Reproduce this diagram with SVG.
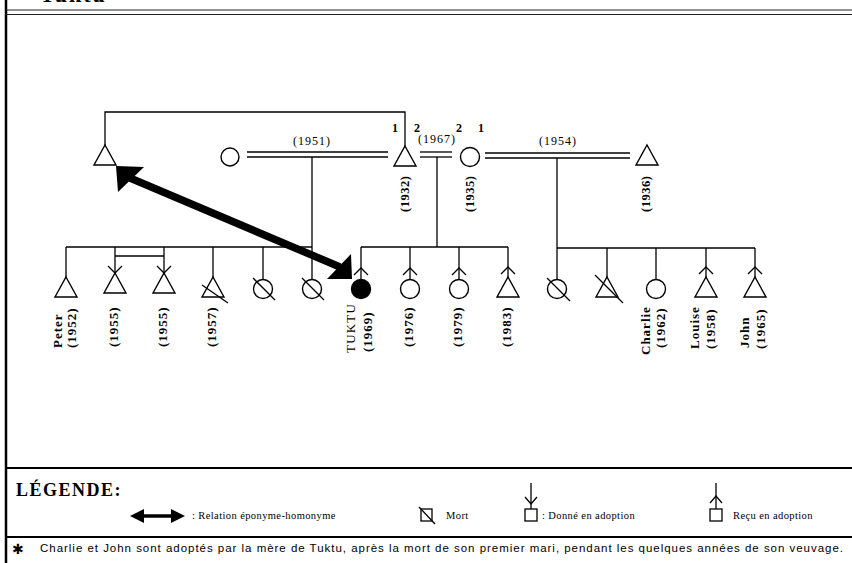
<svg xmlns="http://www.w3.org/2000/svg" width="852" height="563" viewBox="0 0 852 563">
<style>
.ln{stroke:#000;stroke-width:1.3;fill:none}
.sym{stroke:#000;stroke-width:1.4;fill:#fff}
.fill{stroke:#000;stroke-width:1.4;fill:#000}
.yr{font-family:"Liberation Serif",serif;font-size:12px;letter-spacing:1px;fill:#000}
.num{font-family:"Liberation Serif",serif;font-size:12px;font-weight:bold;fill:#000}
.ty{font-family:"Liberation Serif",serif;font-size:12.5px;font-weight:bold;letter-spacing:0.5px;fill:#000}
.rl{font-family:"Liberation Serif",serif;font-size:13px;font-weight:bold;letter-spacing:1px;fill:#000}
.rn{font-family:"Liberation Serif",serif;font-size:13px;letter-spacing:1.2px;fill:#000}
.lg{font-family:"Liberation Serif",serif;font-size:10.5px;letter-spacing:0.4px;fill:#000}
.fn{font-family:"Liberation Sans",sans-serif;font-size:11.5px;fill:#000}
</style>
<defs>
<path id="tri" d="M0,0 L11,20 L-11,20 Z"/>
</defs>
<rect width="852" height="563" fill="#fff"/>
<!-- frame -->
<g id="frame">
<text x="40" y="1.5" style="font-family:'Liberation Serif',serif;font-size:22px;font-weight:bold;letter-spacing:2px">Tuktu</text>
<line x1="6" y1="0" x2="6" y2="563" stroke="#000" stroke-width="2.5"/>
<line x1="6" y1="10" x2="852" y2="10" stroke="#222" stroke-width="1"/>
<line x1="6" y1="14.5" x2="852" y2="14.5" stroke="#222" stroke-width="1"/>
<line x1="6" y1="468" x2="852" y2="468" stroke="#000" stroke-width="2"/>
<line x1="6" y1="537" x2="852" y2="537" stroke="#000" stroke-width="2"/>
</g>
<!-- connectors -->
<g id="connectors" class="ln">
<path d="M105,145 V112 H405 V146"/>
<!-- marriage 1951 -->
<line x1="247" y1="152" x2="388" y2="152"/>
<line x1="247" y1="157" x2="388" y2="157"/>
<line x1="312" y1="157" x2="312" y2="279.5"/>
<line x1="66" y1="247" x2="312" y2="247"/>
<line x1="66" y1="247" x2="66" y2="277"/>
<line x1="115" y1="247" x2="115" y2="273"/>
<line x1="164" y1="247" x2="164" y2="273"/>
<line x1="213" y1="247" x2="213" y2="277"/>
<line x1="263" y1="247" x2="263" y2="279.5"/>
<line x1="115" y1="256" x2="164" y2="256"/>
<path d="M108,266 L115,273 L122,266"/>
<path d="M157,266 L164,273 L171,266"/>
<!-- marriage 1967 -->
<line x1="420" y1="152" x2="452" y2="152"/>
<line x1="420" y1="157" x2="452" y2="157"/>
<line x1="437" y1="157" x2="437" y2="247"/>
<line x1="361" y1="247" x2="508" y2="247"/>
<line x1="361" y1="247" x2="361" y2="279.5"/>
<line x1="410" y1="247" x2="410" y2="279.5"/>
<line x1="459" y1="247" x2="459" y2="279.5"/>
<line x1="508" y1="247" x2="508" y2="277"/>
<path d="M354,275 L361,268 L368,275"/>
<path d="M403,275 L410,268 L417,275"/>
<path d="M452,275 L459,268 L466,275"/>
<path d="M501,274 L508,267 L515,274"/>
<!-- marriage 1954 -->
<line x1="485" y1="153" x2="630" y2="153"/>
<line x1="485" y1="158" x2="630" y2="158"/>
<line x1="557" y1="158" x2="557" y2="280"/>
<line x1="557" y1="248" x2="755" y2="248"/>
<line x1="607" y1="248" x2="607" y2="277"/>
<line x1="656" y1="248" x2="656" y2="280"/>
<line x1="706" y1="248" x2="706" y2="277"/>
<line x1="755" y1="248" x2="755" y2="277"/>
<path d="M699,274 L706,267 L713,274"/>
<path d="M748,274 L755,267 L762,274"/>
</g>
<!-- marriage labels -->
<g id="marriage-labels">
<text class="yr" x="312" y="145" text-anchor="middle">(1951)</text>
<text class="yr" x="437" y="143" text-anchor="middle">(1967)</text>
<text class="yr" x="558" y="145" text-anchor="middle">(1954)</text>
<text class="num" x="392" y="132">1</text>
<text class="num" x="414" y="132">2</text>
<text class="num" x="456" y="132">2</text>
<text class="num" x="478" y="132">1</text>
</g>
<!-- top generation -->
<g id="n-namesake"><use href="#tri" x="105" y="145" class="sym"/></g>
<g id="n-wife1951"><circle cx="230" cy="157" r="9" class="sym"/></g>
<g id="n-father"><use href="#tri" x="405" y="146" class="sym"/>
<text class="ty" transform="translate(409,212) rotate(-90)">(1932)</text></g>
<g id="n-mother"><circle cx="470" cy="157" r="9.5" class="sym"/>
<text class="ty" transform="translate(474,212) rotate(-90)">(1935)</text></g>
<g id="n-husband1954"><use href="#tri" x="647" y="145" class="sym"/>
<text class="ty" transform="translate(650,212) rotate(-90)">(1936)</text></g>
<!-- children 1951 -->
<g id="n-peter"><use href="#tri" x="66" y="277" class="sym"/>
<text class="rl" transform="translate(62,348) rotate(-90)">Peter</text>
<text class="rl" transform="translate(76,348) rotate(-90)">(1952)</text></g>
<g id="n-1955a"><use href="#tri" x="115" y="273" class="sym"/>
<text class="rl" transform="translate(118,347) rotate(-90)">(1955)</text></g>
<g id="n-1955b"><use href="#tri" x="164" y="273" class="sym"/>
<text class="rl" transform="translate(167,347) rotate(-90)">(1955)</text></g>
<g id="n-1957"><use href="#tri" x="213" y="277" class="sym"/>
<line x1="202" y1="285" x2="228" y2="303" class="ln"/>
<text class="rl" transform="translate(216,347) rotate(-90)">(1957)</text></g>
<g id="n-d1"><circle cx="263" cy="289" r="9.5" class="sym"/>
<line x1="253" y1="278" x2="275" y2="300" class="ln"/></g>
<g id="n-d2"><circle cx="312" cy="289" r="9.5" class="sym"/>
<line x1="302" y1="278" x2="324" y2="300" class="ln"/></g>
<!-- children 1967 -->
<g id="n-tuktu"><circle cx="361" cy="289" r="9.5" class="fill"/>
<text class="rn" transform="translate(355,353) rotate(-90)">TUKTU</text>
<text class="rl" transform="translate(372,352) rotate(-90)">(1969)</text></g>
<g id="n-1976"><circle cx="410" cy="289" r="9.5" class="sym"/>
<text class="rl" transform="translate(413,347) rotate(-90)">(1976)</text></g>
<g id="n-1979"><circle cx="459" cy="289" r="9.5" class="sym"/>
<text class="rl" transform="translate(462,347) rotate(-90)">(1979)</text></g>
<g id="n-1983"><use href="#tri" x="508" y="277" class="sym"/>
<text class="rl" transform="translate(511,347) rotate(-90)">(1983)</text></g>
<!-- children 1954 -->
<g id="n-d3"><circle cx="557" cy="289" r="9.5" class="sym"/>
<line x1="547" y1="278" x2="570" y2="301" class="ln"/></g>
<g id="n-d4"><use href="#tri" x="607" y="277" class="sym"/>
<line x1="595" y1="275" x2="623" y2="303" class="ln"/></g>
<g id="n-charlie"><circle cx="656" cy="289" r="9.5" class="sym"/>
<text class="rl" transform="translate(650,355) rotate(-90)">Charlie</text>
<text class="rl" transform="translate(665,348) rotate(-90)">(1962)</text></g>
<g id="n-louise"><use href="#tri" x="706" y="277" class="sym"/>
<text class="rl" transform="translate(699,349) rotate(-90)">Louise</text>
<text class="rl" transform="translate(715,349) rotate(-90)">(1958)</text></g>
<g id="n-john"><use href="#tri" x="755" y="277" class="sym"/>
<text class="rl" transform="translate(749,348) rotate(-90)">John</text>
<text class="rl" transform="translate(765,349) rotate(-90)">(1965)</text></g>
<!-- eponym relation arrow -->
<g id="eponym">
<line x1="130" y1="178" x2="340" y2="267" stroke="#000" stroke-width="7.5"/>
<polygon points="116,166 144,167 118,192" fill="#000"/>
<polygon points="352,279 351,254 327,279" fill="#000"/>
</g>
<!-- legend -->
<g id="legend">
<text x="16" y="496" style="font-family:'Liberation Serif',serif;font-size:18px;font-weight:bold;letter-spacing:1.5px">LÉGENDE:</text>
<line x1="140" y1="516" x2="174" y2="516" stroke="#000" stroke-width="3.5"/>
<polygon points="130,516 144,509 144,523" fill="#000"/>
<polygon points="185,516 171,509 171,523" fill="#000"/>
<text class="lg" x="192" y="519">: Relation éponyme-homonyme</text>
<rect x="421" y="509" width="11" height="12" class="ln"/>
<line x1="419" y1="507" x2="435" y2="524" class="ln"/>
<text class="lg" x="446" y="519">Mort</text>
<line x1="531" y1="483" x2="531" y2="509" class="ln"/>
<path d="M525,497 L531,504 L537,497" class="ln"/>
<rect x="525" y="509" width="12" height="12" class="ln"/>
<text class="lg" x="542" y="519">: Donné en adoption</text>
<line x1="716" y1="483" x2="716" y2="509" class="ln"/>
<path d="M710,503 L716,496 L722,503" class="ln"/>
<rect x="710" y="509" width="12" height="12" class="ln"/>
<text class="lg" x="733" y="519">Reçu en adoption</text>
</g>
<!-- footnote -->
<g id="footnote">
<text x="12" y="554" style="font-family:'DejaVu Sans',sans-serif;font-size:14px;font-weight:bold">✱</text>
<text class="fn" x="40" y="552" textLength="803" lengthAdjust="spacing">Charlie et John sont adoptés par la mère de Tuktu, après la mort de son premier mari, pendant les quelques années de son veuvage.</text>
</g>
</svg>
